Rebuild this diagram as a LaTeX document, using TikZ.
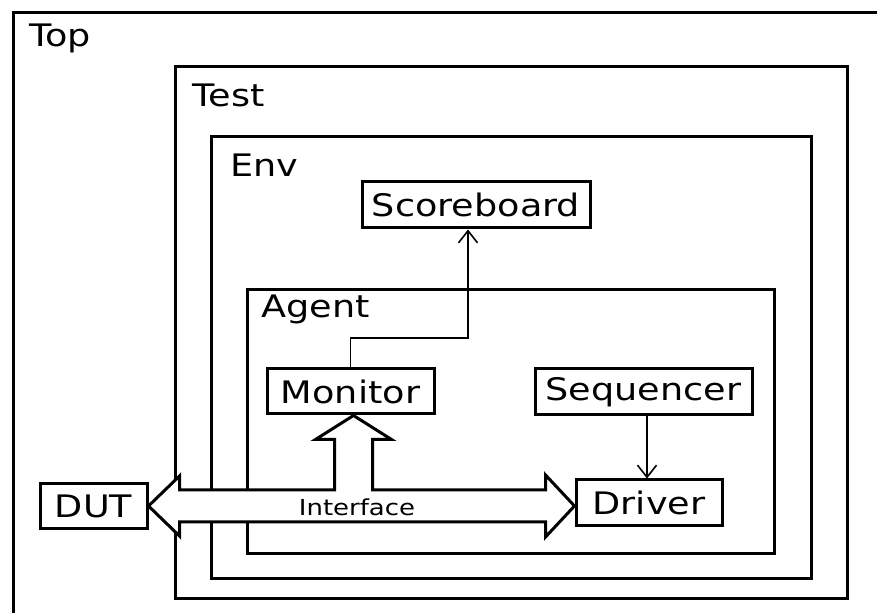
\documentclass[tikz,border=0pt]{standalone}
\usepackage{fontspec}
\setmainfont{DejaVu Sans}[FakeStretch=1.18]
\usetikzlibrary{arrows.meta,calc}

\tikzset{
  frame/.style={draw,line width=1.5pt},
  blk/.style={draw,line width=1.5pt,fill=white,inner sep=0pt,font=\fontsize{15.5}{18}\selectfont},
  lbl/.style={anchor=base west,inner sep=0pt,font=\fontsize{15.5}{18}\selectfont},
  conn/.style={line width=0.8pt,-{Straight Barb[length=6pt,width=9.5pt]}},
  iface/.style={line width=1.5pt,fill=white,miter limit=20}
}

\begin{document}
\begin{tikzpicture}[x=0.5pt,y=-0.5pt]

  \useasboundingbox (0,0) rectangle (877,613);
  \clip (0,0) rectangle (877,613);

  %--- nested containers ---
  \draw[frame] (13,13) rectangle (920,640);
  \node[lbl] (toplbl) at (29,47) {Top};
  \draw[frame] (175,67) rectangle (847,598);
  \node[lbl] (testlbl) at (192,107) {Test};
  \draw[frame] (211,137) rectangle (811,579);
  \node[lbl] (envlbl) at (230,177) {Env};
  \draw[frame] (247,290) rectangle (774,554);
  \node[lbl] (agentlbl) at (261,318) {Agent};

  %--- components ---
  \node[blk,minimum width=114pt,minimum height=23pt] (sb)  at (476,205)   {Scoreboard};
  \node[blk,minimum width=83.5pt,minimum height=22.5pt] (mon) at (350.5,391.5) {Monitor};
  \node[blk,minimum width=108.5pt,minimum height=23pt] (seq) at (643.5,392) {Sequencer};
  \node[blk,minimum width=73pt,minimum height=23pt] (drv) at (649,503)   {Driver};
  \node[blk,minimum width=53.5pt,minimum height=22.5pt] (dut) at (93.5,506) {DUT};

  %--- monitor to scoreboard, sequencer to driver ---
  \coordinate (bend) at (468,338);
  \draw[conn] (mon.north) |- (bend) -- (bend |- sb.south);
  \coordinate (seqout) at ($(seq.south)+(3.5,0)$);
  \draw[conn] (seqout) -- (seqout |- drv.north);

  %--- interface (fat arrow: DUT <-> Driver, up to Monitor) ---
  \coordinate (lt) at (dut.east);
  \coordinate (rt) at (drv.west |- dut.east);
  \coordinate (ut) at ($(mon.south)+(3,0)$);
  \draw[iface] (lt) -- ++(31,-30) -- ++(0,14)
      -- ($(ut|-lt)+(-19,-16)$) -- ($(ut)+(-19,24)$) -- ($(ut)+(-38,24)$)
      -- (ut) -- ($(ut)+(38,24)$) -- ($(ut)+(19,24)$) -- ($(ut|-lt)+(19,-16)$)
      -- ($(rt)+(-29,-16)$) -- ($(rt)+(-29,-31)$) -- (rt)
      -- ($(rt)+(-29,31)$) -- ($(rt)+(-29,16)$)
      -- ($(lt)+(31,16)$) -- ($(lt)+(31,30)$) -- cycle;
  \node[font=\fontsize{11}{13}\selectfont] (iflbl) at (357,507) {Interface};

\end{tikzpicture}
\end{document}
